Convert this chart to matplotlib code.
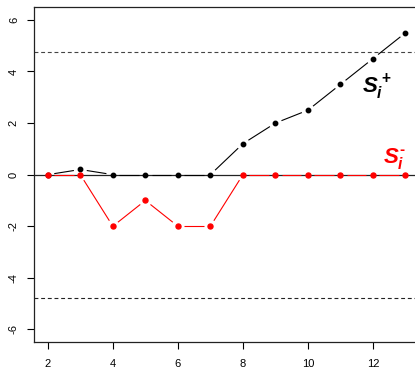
import numpy as np
import matplotlib
matplotlib.use("Agg")
import matplotlib.pyplot as plt

# ---------------------------------------------------------------- data
t = [2, 3, 4, 5, 6, 7, 8, 9, 10, 11, 12, 13]
s_plus = [0, 0.2, 0, 0, 0, 0, 1.2, 2.0, 2.5, 3.5, 4.5, 5.5]
s_minus = [0, 0, -2, -1, -2, -2, 0, 0, 0, 0, 0, 0]
h_limit = 4.77

xticks = [2, 4, 6, 8, 10, 12]
yticks = [-6, -4, -2, 0, 2, 4, 6]

# ---------------------------------------------------------------- style
plt.rcParams['font.family'] = 'Liberation Sans'
plt.rcParams['axes.unicode_minus'] = False
plt.rcParams['mathtext.fontset'] = 'custom'
plt.rcParams['mathtext.it'] = 'Liberation Sans:italic:bold'
plt.rcParams['mathtext.rm'] = 'Liberation Sans:bold'
plt.rcParams['mathtext.bf'] = 'Liberation Sans:bold'

fig = plt.figure(figsize=(4.15, 3.69), dpi=100)
ax = fig.add_axes([33.5 / 415, 1 - 342.3 / 369, (419.8 - 33.5) / 415, (342.3 - 7) / 369])

ax.set_xlim(1.56, 13.44)
ax.set_ylim(-6.5, 6.5)


def plot_b(ax, x, y, color, gap=6.5, ms=3.6):
    # R style type="b": points joined by lines that stop short of each point
    pts = ax.transData.transform(np.column_stack([x, y]))
    inv = ax.transData.inverted()
    for i in range(len(x) - 1):
        p0, p1 = pts[i], pts[i + 1]
        d = p1 - p0
        L = np.hypot(d[0], d[1])
        if L <= 2 * gap:
            continue
        u = d / L
        seg = inv.transform(np.array([p0 + u * gap, p1 - u * gap]))
        ax.plot(seg[:, 0], seg[:, 1], color=color, lw=0.8, solid_capstyle='butt', zorder=3)
    ax.plot(x, y, 'o', color=color, ms=ms, mec=color, zorder=4)


ax.axhline(0, color='#222222', lw=0.9, zorder=2)
ax.axhline(h_limit, color='#444444', lw=0.8, ls=(0, (3.5, 2.5)), zorder=2)
ax.axhline(-h_limit, color='#222222', lw=0.8, ls=(0, (3.5, 2.5)), zorder=2)

plot_b(ax, t, s_plus, 'black', ms=3.2)
plot_b(ax, t, s_minus, 'red', ms=3.6)

ax.text(11.66, 3.4, r'$S_i^+$', color='black', fontsize=16, va='center', ha='left')
ax.text(12.31, 0.62, r'$S_i^{\text{-}}$', color='red', fontsize=16, va='center', ha='left')

ax.set_xticks(xticks)
ax.set_yticks(yticks)
ax.set_xticklabels([str(v) for v in xticks])
ax.set_yticklabels([str(v) for v in yticks], rotation=90, va='center')
ax.tick_params(axis='both', direction='out', length=5, width=0.8, labelsize=8, colors='black')
ax.tick_params(axis='x', pad=7)
ax.tick_params(axis='y', pad=5.5)
for s in ax.spines.values():
    s.set_linewidth(0.9)
    s.set_color('#222222')

fig.savefig('out.png', dpi=100)
